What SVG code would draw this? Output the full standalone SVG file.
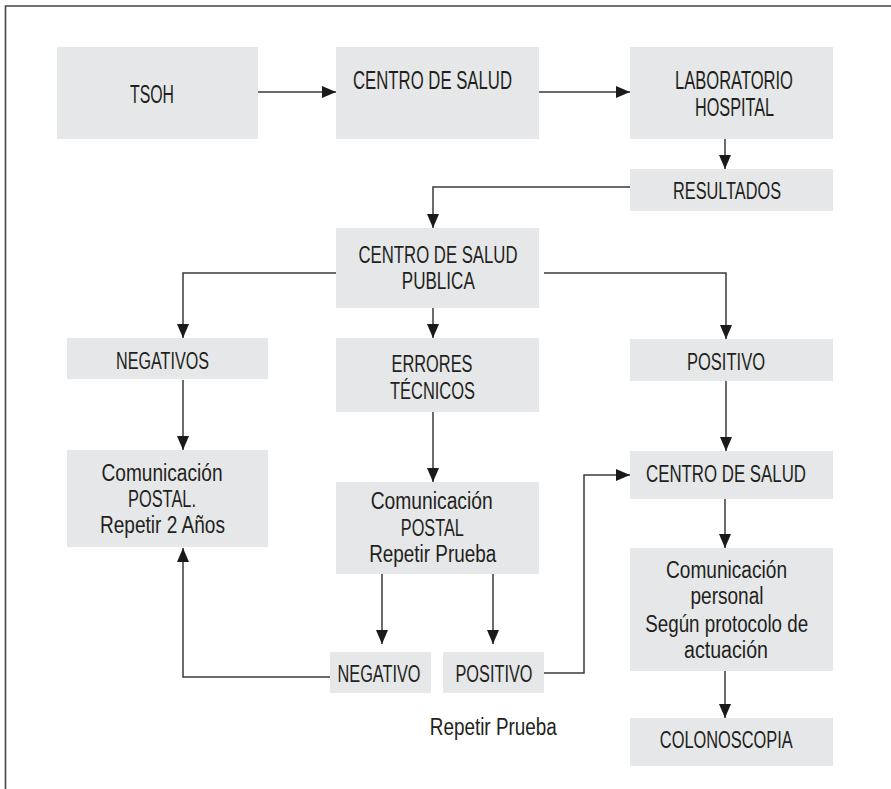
<svg xmlns="http://www.w3.org/2000/svg" width="891" height="789" viewBox="0 0 891 789">
<defs>
<style>
.box{fill:#e6e7e8;}
.t{font-family:"Liberation Sans Narrow","Liberation Sans",Arial,sans-serif;font-size:23.5px;fill:#231f20;text-anchor:middle;}
.big{font-size:25px;}
.c{fill:none;stroke:#3a3a3a;stroke-width:1.5;}
.frame{fill:none;stroke:#444;stroke-width:1.6;}
</style>
<marker id="ah" markerUnits="userSpaceOnUse" markerWidth="14" markerHeight="12" refX="14" refY="6" orient="auto">
<path d="M0,0 L14,6 L0,12 z" fill="#1a1a1a"/>
</marker>
</defs>
<rect width="891" height="789" fill="#ffffff"/>
<path class="frame" d="M5.5,789 V6 H891"/>

<g id="connectors">
<path class="c" marker-end="url(#ah)" d="M258,92 H336"/>
<path class="c" marker-end="url(#ah)" d="M539,92 H630"/>
<path class="c" marker-end="url(#ah)" d="M725,139 V169"/>
<path class="c" marker-end="url(#ah)" d="M630,187 H433 V228"/>
<path class="c" marker-end="url(#ah)" d="M336,273 H183 V338"/>
<path class="c" marker-end="url(#ah)" d="M433,308 V338"/>
<path class="c" marker-end="url(#ah)" d="M544,273 H726 V339"/>
<path class="c" marker-end="url(#ah)" d="M183,380 V450"/>
<path class="c" marker-end="url(#ah)" d="M433,412 V482"/>
<path class="c" marker-end="url(#ah)" d="M382,574 V644"/>
<path class="c" marker-end="url(#ah)" d="M493,574 V644"/>
<path class="c" marker-end="url(#ah)" d="M330,677 H183 V548"/>
<path class="c" marker-end="url(#ah)" d="M544,673 H584 V475 H630"/>
<path class="c" marker-end="url(#ah)" d="M726,381 V451"/>
<path class="c" marker-end="url(#ah)" d="M725,499 V548"/>
<path class="c" marker-end="url(#ah)" d="M725,671 V718"/>
</g>

<g id="tsoh">
<rect class="box" x="57" y="47" width="201" height="92"/>
<text class="t big" x="152" y="103" textLength="44" lengthAdjust="spacingAndGlyphs">TSOH</text>
</g>
<g id="centro-salud-1">
<rect class="box" x="336" y="47" width="203" height="92"/>
<text class="t big" x="432.5" y="89" textLength="159" lengthAdjust="spacingAndGlyphs">CENTRO DE SALUD</text>
</g>
<g id="laboratorio">
<rect class="box" x="630" y="47" width="203" height="92"/>
<text class="t big" x="734" y="89" textLength="118" lengthAdjust="spacingAndGlyphs">LABORATORIO</text>
<text class="t big" x="734.5" y="116" textLength="79" lengthAdjust="spacingAndGlyphs">HOSPITAL</text>
</g>
<g id="resultados">
<rect class="box" x="630" y="169" width="203" height="42"/>
<text class="t" x="727" y="199" textLength="108" lengthAdjust="spacingAndGlyphs">RESULTADOS</text>
</g>
<g id="centro-salud-publica">
<rect class="box" x="336" y="228" width="203" height="80"/>
<text class="t" x="438" y="263" textLength="159" lengthAdjust="spacingAndGlyphs">CENTRO DE SALUD</text>
<text class="t" x="438.3" y="289" textLength="73" lengthAdjust="spacingAndGlyphs">PUBLICA</text>
</g>
<g id="negativos">
<rect class="box" x="67" y="338" width="201" height="41"/>
<text class="t" x="162.5" y="369" textLength="93" lengthAdjust="spacingAndGlyphs">NEGATIVOS</text>
</g>
<g id="errores">
<rect class="box" x="336" y="338" width="203" height="74"/>
<text class="t" x="432" y="371.5" textLength="81" lengthAdjust="spacingAndGlyphs">ERRORES</text>
<text class="t" x="432.5" y="399" textLength="85" lengthAdjust="spacingAndGlyphs">TÉCNICOS</text>
</g>
<g id="positivo-1">
<rect class="box" x="630" y="339" width="203" height="42"/>
<text class="t" x="726" y="370" textLength="78" lengthAdjust="spacingAndGlyphs">POSITIVO</text>
</g>
<g id="comunicacion-postal-1">
<rect class="box" x="67" y="450" width="201" height="97"/>
<text class="t" x="162" y="480.5" textLength="121" lengthAdjust="spacingAndGlyphs">Comunicación</text>
<text class="t" x="162" y="506.5" textLength="68" lengthAdjust="spacingAndGlyphs">POSTAL.</text>
<text class="t" x="162.5" y="533" textLength="125" lengthAdjust="spacingAndGlyphs">Repetir 2 Años</text>
</g>
<g id="comunicacion-postal-2">
<rect class="box" x="336" y="482" width="203" height="92"/>
<text class="t" x="431.7" y="509" textLength="122" lengthAdjust="spacingAndGlyphs">Comunicación</text>
<text class="t" x="432.3" y="536" textLength="63" lengthAdjust="spacingAndGlyphs">POSTAL</text>
<text class="t" x="432.7" y="561.5" textLength="127" lengthAdjust="spacingAndGlyphs">Repetir Prueba</text>
</g>
<g id="centro-salud-2">
<rect class="box" x="630" y="451" width="203" height="48"/>
<text class="t" x="726" y="481.5" textLength="160" lengthAdjust="spacingAndGlyphs">CENTRO DE SALUD</text>
</g>
<g id="comunicacion-personal">
<rect class="box" x="630" y="548" width="203" height="123"/>
<text class="t" x="726.5" y="577.5" textLength="121" lengthAdjust="spacingAndGlyphs">Comunicación</text>
<text class="t" x="727" y="604" textLength="73" lengthAdjust="spacingAndGlyphs">personal</text>
<text class="t" x="726.7" y="631.5" textLength="163" lengthAdjust="spacingAndGlyphs">Según protocolo de</text>
<text class="t" x="726" y="658" textLength="84" lengthAdjust="spacingAndGlyphs">actuación</text>
</g>
<g id="negativo">
<rect class="box" x="330" y="652" width="101" height="41"/>
<text class="t" x="379" y="681.5" textLength="83" lengthAdjust="spacingAndGlyphs">NEGATIVO</text>
</g>
<g id="positivo-2">
<rect class="box" x="443" y="652" width="101" height="41"/>
<text class="t" x="494" y="681.5" textLength="77" lengthAdjust="spacingAndGlyphs">POSITIVO</text>
</g>
<g id="colonoscopia">
<rect class="box" x="630" y="718" width="203" height="48"/>
<text class="t" x="726.3" y="748" textLength="133" lengthAdjust="spacingAndGlyphs">COLONOSCOPIA</text>
</g>
<g id="label-repetir">
<text class="t" x="493.3" y="735" textLength="127" lengthAdjust="spacingAndGlyphs">Repetir Prueba</text>
</g>
</svg>
